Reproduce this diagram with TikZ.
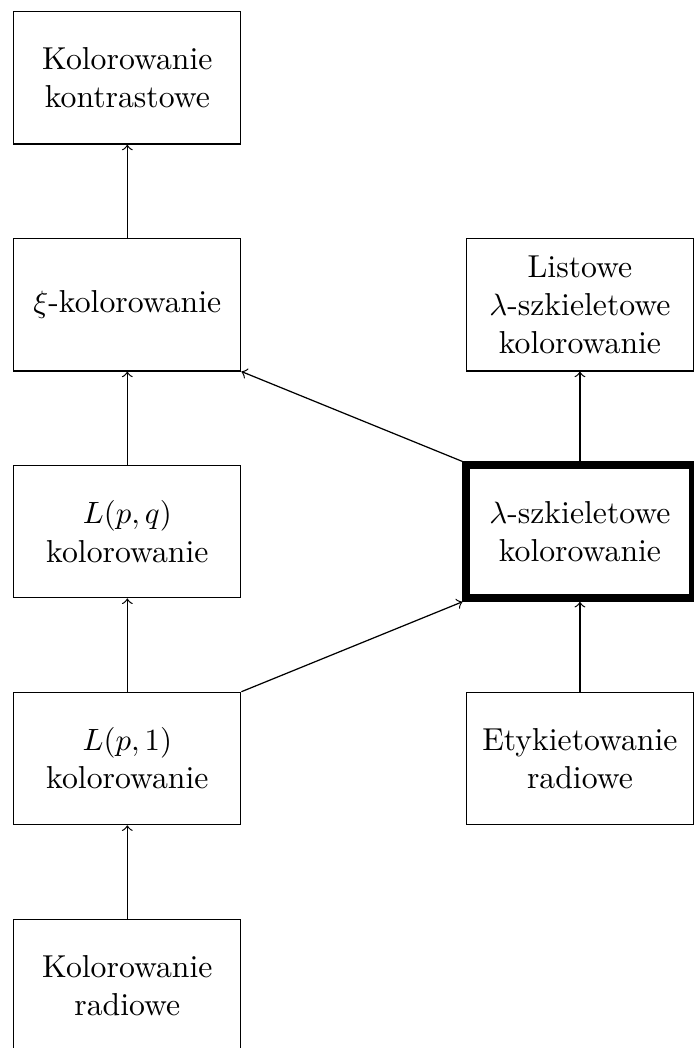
\documentclass[tikz,border=0pt]{standalone}
\usepackage{amsmath,amssymb}
\usetikzlibrary{positioning}

\tikzset{
  klasa/.style={draw, rectangle, align=center, minimum width=2.59cm, minimum height=1.51cm, inner sep=2pt, font=\fontsize{10.3}{12.4}\selectfont},
  glowna/.style={klasa, line width=2.6pt}
}

\begin{document}
\begin{tikzpicture}[node distance=2.589cm and 5.165cm,on grid]
   \useasboundingbox (0,0) rectangle (7.91,-11.96);
   \node [klasa] (kontrast) at (1.453,-0.889) {Kolorowanie\\kontrastowe};
   \node [klasa, below=of kontrast] (xi) {$\xi$-kolorowanie};
   \node [klasa, below=of xi] (lpq) {$L(p,q)$\\kolorowanie};
   \node [klasa, below=of lpq] (lp1) {$L(p,1)$\\kolorowanie};
   \node [klasa, below=of lp1] (radio) {Kolorowanie\\radiowe};
   \node [klasa, right=of xi] (listowe) {Listowe\\$\lambda$-szkieletowe\\kolorowanie};
   \node [glowna, right=of lpq] (szkielet) {$\lambda$-szkieletowe\\kolorowanie};
   \node [klasa, right=of lp1] (etykiet) {Etykietowanie\\radiowe};
    \path[->]
    (xi) edge (kontrast)
    (lpq) edge (xi)
    (lp1) edge (lpq)
    (radio) edge (lp1)
    (etykiet) edge (szkielet)
    (szkielet) edge (listowe)
    (lp1.north east) edge (szkielet.south west)
    (szkielet.north west) edge (xi.south east);
\end{tikzpicture}
\end{document}
